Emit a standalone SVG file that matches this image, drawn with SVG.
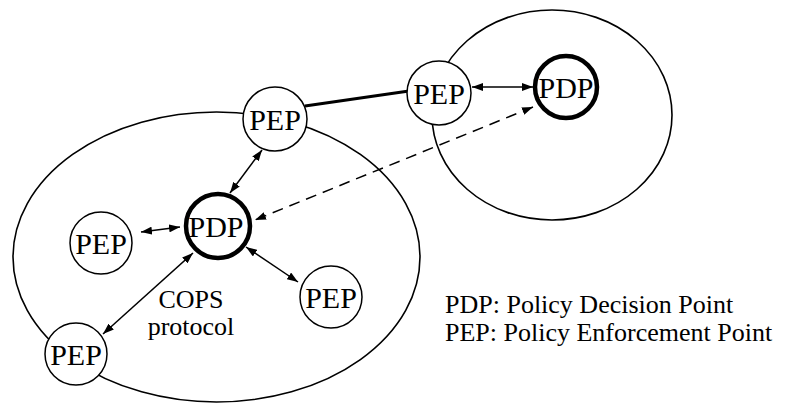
<svg xmlns="http://www.w3.org/2000/svg" width="791" height="403" viewBox="0 0 791 403">
  <defs>
    <marker id="head" markerUnits="userSpaceOnUse" markerWidth="11" markerHeight="8" refX="11" refY="4" orient="auto-start-reverse">
      <path d="M0,0 L11,4 L0,8 z" fill="#000"/>
    </marker>
  </defs>
  <style>
    .domain { fill: none; stroke: #000; stroke-width: 1.6; }
    .pep { fill: #fff; stroke: #000; stroke-width: 1.5; }
    .pdp { fill: #fff; stroke: #000; stroke-width: 4.5; }
    .lbl { font-family: "Liberation Serif", "Times New Roman", serif; fill: #000; }
    .node-text { text-anchor: middle; font-size: 30px; }
    .cops { text-anchor: middle; font-size: 26px; }
    .legend-text { font-size: 26px; }
    .link { fill: none; stroke: #000; stroke-width: 1.5; marker-start: url(#head); marker-end: url(#head); }
    .dashed { stroke-dasharray: 11 7; }
    .trunk { fill: none; stroke: #000; stroke-width: 3; }
  </style>

  <!-- administrative domains -->
  <g id="domains">
    <ellipse class="domain" cx="216.5" cy="257" rx="203.5" ry="145"/>
    <ellipse class="domain" cx="552" cy="115" rx="120" ry="105"/>
  </g>

  <!-- connectors -->
  <g id="connectors">
    <line class="trunk" x1="305" y1="106" x2="409" y2="91"/>
    <line class="link" x1="472" y1="87" x2="533" y2="87"/>
    <line class="link dashed" x1="533" y1="107" x2="255" y2="220"/>
    <line class="link" x1="262" y1="150" x2="230" y2="193"/>
    <line class="link" x1="141" y1="232" x2="180" y2="227"/>
    <line class="link" x1="246" y1="247" x2="298" y2="282"/>
    <line class="link" x1="193" y1="253" x2="103" y2="334"/>
  </g>

  <!-- nodes -->
  <g id="pep-top">
    <circle class="pep" cx="275" cy="119" r="32"/>
    <text class="lbl node-text" x="275" y="130">PEP</text>
  </g>
  <g id="pep-gateway">
    <circle class="pep" cx="439" cy="93" r="32"/>
    <text class="lbl node-text" x="439" y="104">PEP</text>
  </g>
  <g id="pdp-remote">
    <circle class="pdp" cx="566" cy="87" r="31"/>
    <text class="lbl node-text" x="566" y="98">PDP</text>
  </g>
  <g id="pdp-main">
    <circle class="pdp" cx="218" cy="226" r="32"/>
    <text class="lbl node-text" x="216" y="237">PDP</text>
  </g>
  <g id="pep-left">
    <circle class="pep" cx="101" cy="243" r="31"/>
    <text class="lbl node-text" x="101" y="254">PEP</text>
  </g>
  <g id="pep-right">
    <circle class="pep" cx="331" cy="297" r="31"/>
    <text class="lbl node-text" x="331" y="308">PEP</text>
  </g>
  <g id="pep-bottom">
    <circle class="pep" cx="76" cy="354" r="31"/>
    <text class="lbl node-text" x="76" y="365">PEP</text>
  </g>

  <!-- protocol label -->
  <g id="cops-label">
    <text class="lbl cops" x="191" y="308">COPS</text>
    <text class="lbl cops" x="191" y="335">protocol</text>
  </g>

  <!-- legend -->
  <g id="legend">
    <text class="lbl legend-text" x="445" y="313">PDP: Policy Decision Point</text>
    <text class="lbl legend-text" x="445" y="341">PEP: Policy Enforcement Point</text>
  </g>
</svg>
